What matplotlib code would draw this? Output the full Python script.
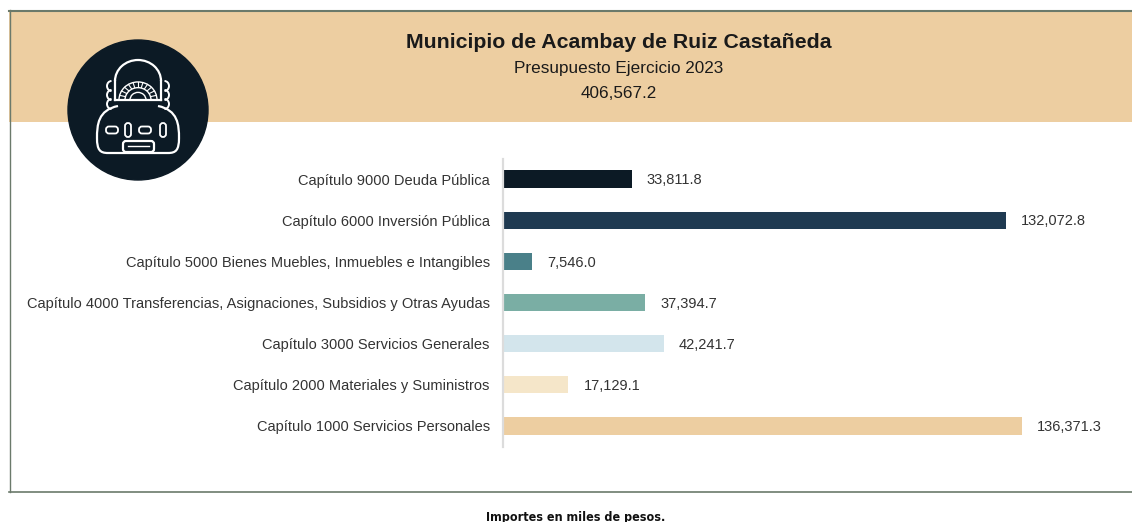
import matplotlib.pyplot as plt
import matplotlib.patches as mpatches
from matplotlib.path import Path
import numpy as np

plt.rcParams['font.family'] = ['Liberation Sans', 'DejaVu Sans']

# Datos del presupuesto (miles de pesos)
capitulos = ["Capítulo 9000 Deuda Pública",
             "Capítulo 6000 Inversión Pública",
             "Capítulo 5000 Bienes Muebles, Inmuebles e Intangibles",
             "Capítulo 4000 Transferencias, Asignaciones, Subsidios y Otras Ayudas",
             "Capítulo 3000 Servicios Generales",
             "Capítulo 2000 Materiales y Suministros",
             "Capítulo 1000 Servicios Personales"]
importes = [33811.8, 132072.8, 7546.0, 37394.7, 42241.7, 17129.1, 136371.3]
colores = ["#0c1a25", "#1f3a51", "#4a8089", "#7aaea4", "#d3e5ec", "#f5e6c9", "#edcea1"]
titulo = "Municipio de Acambay de Ruiz Castañeda"
subtitulo = "Presupuesto Ejercicio 2023"
total = "406,567.2"
nota = "Importes en miles de pesos."

W, H = 1132, 522
fig = plt.figure(figsize=(W / 100, H / 100), dpi=100)

# fondo: marco y banda de encabezado
bg = fig.add_axes([0, 0, 1, 1])
bg.set_xlim(0, W)
bg.set_ylim(H, 0)
bg.axis("off")
bg.add_patch(mpatches.Rectangle((9, 11), W, 111, color="#edcea1", lw=0))
bg.plot([9, W], [10.5, 10.5], color="#6b7a6b", lw=1.5)
bg.plot([9.5, 9.5], [10, 492], color="#6b7a6b", lw=1)
bg.plot([9, W], [492, 492], color="#6b7a6b", lw=1.2)

bg.text(619, 43, titulo, ha="center", va="center", fontsize=15.3, fontweight="bold", color="#1a1a1a")
bg.text(619, 69, subtitulo, ha="center", va="center", fontsize=12.3, color="#1a1a1a")
bg.text(619, 94, total, ha="center", va="center", fontsize=12.3, color="#1a1a1a")
bg.text(576, 517, nota, ha="center", va="center", fontsize=9, fontweight="bold", color="#111111",
        family=["DejaVu Sans"], fontstretch="condensed")

# logo
cx, cy, r = 138, 110, 70
bg.add_patch(mpatches.Circle((cx, cy), r, color="#0c1a25", zorder=3))
lw = 1.6
wc = "white"
# cúpula
bg.add_patch(mpatches.Arc((cx, 81), 46, 42, theta1=180, theta2=360, color=wc, lw=lw, zorder=4))
# tocado
bg.plot([cx - 23, cx + 23], [100, 100], color=wc, lw=lw, zorder=4)
bg.plot([cx - 23, cx - 23], [81, 100], color=wc, lw=lw, zorder=4)
bg.plot([cx + 23, cx + 23], [81, 100], color=wc, lw=lw, zorder=4)
for rr in (8, 13, 19):
    bg.add_patch(mpatches.Arc((cx, 100), 2 * rr, 2 * rr * 0.95, theta1=180, theta2=360,
                              color=wc, lw=1, zorder=4))
for a in np.linspace(195, 345, 11):
    t = np.radians(a)
    bg.plot([cx + 13 * np.cos(t), cx + 19 * np.cos(t)],
            [100 + 13 * np.sin(t), 100 + 18 * np.sin(t)], color=wc, lw=0.8, zorder=4)
# orejeras onduladas
for s in (-1, 1):
    for yy in (86, 95, 104):
        bg.add_patch(mpatches.Arc((cx + s * 26.5, yy), 9, 10,
                                  theta1=(90 if s < 0 else -90), theta2=(270 if s < 0 else 90),
                                  color=wc, lw=1.4, zorder=4))
# cuerpo
verts = [(cx - 20, 106),
         (cx - 40, 110), (cx - 41, 125), (cx - 41, 138),
         (cx - 41, 150), (cx - 38, 153), (cx - 30, 153),
         (cx + 30, 153),
         (cx + 38, 153), (cx + 41, 150), (cx + 41, 138),
         (cx + 41, 125), (cx + 40, 110), (cx + 20, 106)]
codes = [Path.MOVETO] + [Path.CURVE4] * 6 + [Path.LINETO] + [Path.CURVE4] * 6
bg.add_patch(mpatches.PathPatch(Path(verts, codes), fill=False, ec=wc, lw=lw, zorder=4))
for dx, w, h in [(-26, 12, 7), (-10, 6, 14), (7, 12, 7), (25, 6, 14)]:
    bg.add_patch(mpatches.FancyBboxPatch((cx + dx - w / 2, cy + 20 - h / 2), w, h,
                                         boxstyle="round,pad=0,rounding_size=3",
                                         fill=False, ec=wc, lw=1.3, zorder=4))
bg.add_patch(mpatches.FancyBboxPatch((cx - 15, 141), 31, 11, boxstyle="round,pad=0,rounding_size=3",
                                     fill=False, ec=wc, lw=lw, zorder=4))
bg.plot([cx - 10, cx + 11], [146, 146], color=wc, lw=1, zorder=4)

# gráfica de barras
ax_left, ax_right = 503, 1074
ax_top, ax_bot = 158.5, 446.5
ax = fig.add_axes([ax_left / W, 1 - ax_bot / H, (ax_right - ax_left) / W, (ax_bot - ax_top) / H])
ax.patch.set_alpha(0)
y = np.arange(len(capitulos))
ax.barh(y, importes, height=0.42, color=colores)
ax.set_ylim(len(capitulos) - 0.5, -0.5)
ax.set_xlim(0, 150000)
ax.set_yticks(y)
ax.set_yticklabels(capitulos, fontsize=10.5, color="#333333")
ax.tick_params(axis="y", length=0, pad=9.5)
ax.set_xticks([])
for s in ("top", "right", "bottom"):
    ax.spines[s].set_visible(False)
ax.spines["left"].set_color("#dcdcdc")
ax.spines["left"].set_linewidth(1.6)
for yi, v in zip(y, importes):
    ax.text(v + 4000, yi + 0.03, f"{v:,.1f}", va="center", ha="left", fontsize=10.5, color="#333333")

fig.savefig("out.png", dpi=100)
